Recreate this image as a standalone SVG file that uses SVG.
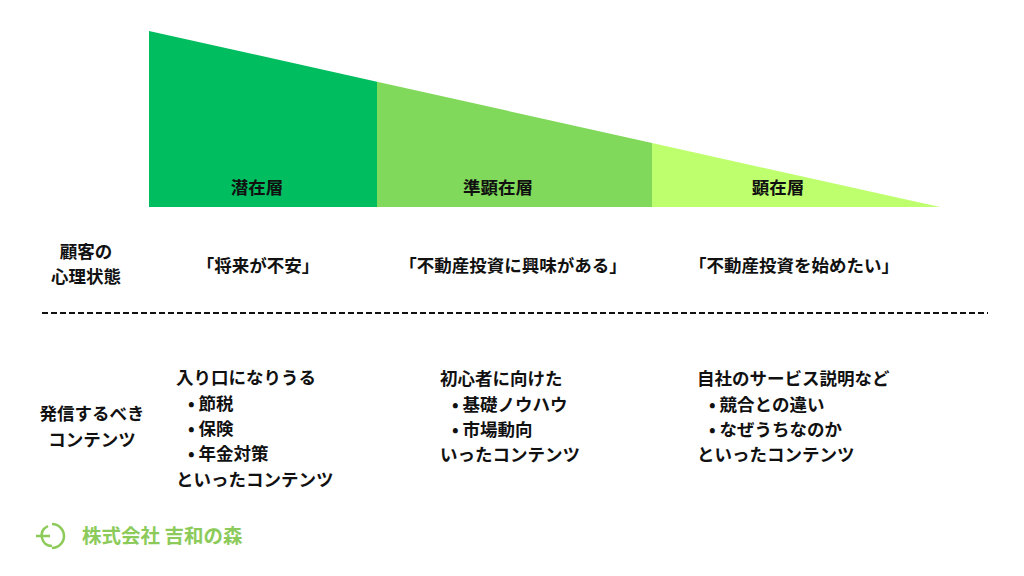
<svg xmlns="http://www.w3.org/2000/svg" width="1024" height="576" viewBox="0 0 1024 576">
<style>
text{font-family:"Noto Sans CJK JP","Noto Sans",sans-serif;fill:#111;font-weight:bold;font-size:17.5px}
.c{text-anchor:middle}
.logo{fill:#8ccb5a;font-size:19.5px;font-weight:bold}
</style>
<rect width="1024" height="576" fill="#fff"/>
<g id="layers">
<polygon points="149,31 377,81.7 377,207 149,207" fill="#00bd5f"/>
<polygon points="377,81.7 652,143 652,207 377,207" fill="#80d95a"/>
<polygon points="652,143 940,207 652,207" fill="#beff6e"/>
<text class="c" x="257" y="194">潜在層</text>
<text class="c" x="498" y="194">準顕在層</text>
<text class="c" x="778" y="194">顕在層</text>
</g>
<g id="psych">
<text class="c" x="86" y="258">顧客の</text>
<text class="c" x="86" y="283">心理状態</text>
<text class="c" x="258" y="272">「将来が不安」</text>
<text class="c" x="513" y="272">「不動産投資に興味がある」</text>
<text class="c" x="794" y="272">「不動産投資を始めたい」</text>
</g>
<g id="connectors">
<line x1="42" y1="313" x2="988" y2="313" stroke="#111" stroke-width="1.8" stroke-dasharray="6,3"/>
</g>
<g id="contents">
<text class="c" x="92" y="420">発信するべき</text>
<text class="c" x="92" y="446">コンテンツ</text>
<text x="176" y="384">入り口になりうる</text>
<text x="188" y="410">•  節税</text>
<text x="188" y="435">•  保険</text>
<text x="188" y="460">•  年金対策</text>
<text x="176" y="486">といったコンテンツ</text>
<text x="440" y="385">初心者に向けた</text>
<text x="452" y="411">•  基礎ノウハウ</text>
<text x="452" y="436">•  市場動向</text>
<text x="440" y="461">いったコンテンツ</text>
<text x="697" y="385">自社のサービス説明など</text>
<text x="709" y="411">•  競合との違い</text>
<text x="709" y="436">•  なぜうちなのか</text>
<text x="697" y="461">といったコンテンツ</text>
</g>
<g id="logo">
<path d="M52,524 A12,12 0 1 1 52,548" fill="none" stroke="#8ccb5a" stroke-width="2.5"/>
<path d="M48,526 Q40,530 42,538 Q44,546 52,546 M36,536 L50,536" fill="none" stroke="#8ccb5a" stroke-width="2.5"/>
<text class="logo" x="82" y="543">株式会社 吉和の森</text>
</g>
</svg>
